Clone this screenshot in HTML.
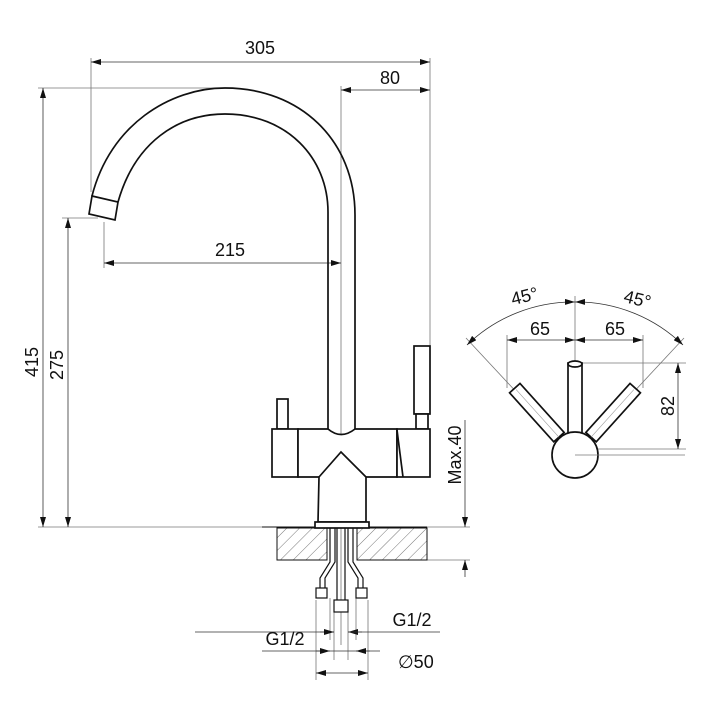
<!DOCTYPE html>
<html><head><style>body{margin:0;background:#fff}svg{display:block}text{font-family:"Liberation Sans",sans-serif;fill:#111}</style></head>
<body>
<svg width="720" height="720" viewBox="0 0 720 720" xmlns="http://www.w3.org/2000/svg">
<defs>
<marker id="a" viewBox="0 0 10 6" refX="10" refY="3" markerWidth="10" markerHeight="6" orient="auto-start-reverse" markerUnits="userSpaceOnUse"><path d="M0,0 L10,3 L0,6 z" fill="#111"/></marker>
<pattern id="h" width="9" height="9" patternUnits="userSpaceOnUse" patternTransform="rotate(45)"><line x1="0" y1="0" x2="0" y2="9" stroke="#555" stroke-width="0.8"/></pattern>
</defs>
<g stroke="#777" stroke-width="0.8" fill="none">
<line x1="91" y1="58" x2="91" y2="192"/>
<line x1="430" y1="58" x2="430" y2="348"/>
<line x1="341" y1="86" x2="341" y2="645"/>
<line x1="38" y1="88" x2="225" y2="88"/>
<line x1="62" y1="218" x2="98" y2="218"/>
<line x1="104" y1="222" x2="104" y2="268"/>
<line x1="38" y1="527" x2="470" y2="527"/>
<line x1="427" y1="560" x2="470" y2="560"/>
<line x1="316" y1="600" x2="316" y2="680"/>
<line x1="368" y1="600" x2="368" y2="680"/>
<line x1="334" y1="612" x2="334" y2="660"/>
<line x1="348" y1="612" x2="348" y2="660"/>
<line x1="330" y1="598" x2="330" y2="640"/>
<line x1="356" y1="598" x2="356" y2="640"/>
<line x1="575" y1="296" x2="575" y2="365"/>
<line x1="507" y1="335" x2="507" y2="388"/>
<line x1="643" y1="335" x2="643" y2="388"/>
<line x1="580" y1="363" x2="686" y2="363"/>
<line x1="577" y1="449" x2="686" y2="449"/>
<line x1="575" y1="455" x2="466" y2="338"/>
<line x1="575" y1="455" x2="684" y2="338"/>
</g>
<g stroke="#333" stroke-width="0.8" fill="none">
<line x1="91" y1="62" x2="430" y2="62" marker-start="url(#a)" marker-end="url(#a)"/>
<line x1="341" y1="90" x2="430" y2="90" marker-start="url(#a)" marker-end="url(#a)"/>
<line x1="104" y1="263" x2="341" y2="263" marker-start="url(#a)" marker-end="url(#a)"/>
<line x1="43" y1="88" x2="43" y2="527" marker-start="url(#a)" marker-end="url(#a)"/>
<line x1="68" y1="218" x2="68" y2="527" marker-start="url(#a)" marker-end="url(#a)"/>
<line x1="465" y1="420" x2="465" y2="527" marker-end="url(#a)"/>
<line x1="465" y1="577" x2="465" y2="560" marker-end="url(#a)"/>
<line x1="195" y1="632" x2="334" y2="632" />
<line x1="320" y1="632" x2="334" y2="632" marker-end="url(#a)"/>
<line x1="362" y1="632" x2="348" y2="632" marker-end="url(#a)"/>
<line x1="348" y1="632" x2="440" y2="632"/>
<line x1="262" y1="651" x2="380" y2="651"/>
<line x1="316" y1="651" x2="330" y2="651" marker-end="url(#a)"/>
<line x1="370" y1="651" x2="356" y2="651" marker-end="url(#a)"/>
<line x1="316" y1="673" x2="368" y2="673" marker-start="url(#a)" marker-end="url(#a)"/>
<line x1="507" y1="340" x2="575" y2="340" marker-start="url(#a)" marker-end="url(#a)"/>
<line x1="575" y1="340" x2="643" y2="340" marker-start="url(#a)" marker-end="url(#a)"/>
<line x1="678" y1="363" x2="678" y2="449" marker-start="url(#a)" marker-end="url(#a)"/>
<path d="M467,345 A153,153 0 0 1 575,302" marker-start="url(#a)" marker-end="url(#a)"/>
<path d="M575,302 A153,153 0 0 1 683,345" marker-start="url(#a)" marker-end="url(#a)"/>
</g>
<rect x="277" y="528" width="50" height="32" fill="url(#h)" stroke="#111" stroke-width="1"/>
<rect x="357" y="528" width="70" height="32" fill="url(#h)" stroke="#111" stroke-width="1"/>
<line x1="262" y1="527" x2="427" y2="527" stroke="#111" stroke-width="1"/>
<g stroke="#111" stroke-width="1.7" fill="#fff">
<path d="M92,196 C110,125 170,88 225,88 C300,88 355,140 355,215 L355,432" fill="none"/>
<path d="M118,202 C135,142 178,114 225,114 C287,114 328,158 328,212 L328,432" fill="none"/>
<path d="M92,196 L118,202 L115,220 L89,214 Z"/>
<rect x="277" y="399" width="11" height="30"/>
<rect x="414" y="346" width="16" height="68"/>
<rect x="416" y="414" width="12" height="15"/>
<rect x="272" y="429" width="26" height="48"/>
<path d="M298,429 L328,429 Q341,440 355,429 L397,429 L397,477 L298,477 Z"/>
<rect x="397" y="429" width="33" height="48"/>
<path d="M397,430 L403,477" fill="none"/>
<path d="M319,477 L341,452 L366,477 L366,522 L318,522 Z"/>
<rect x="315" y="522" width="54" height="6"/>
<path d="M330,528 L330,562 L320,578 L320,588 M335,528 L335,562 L325,578 L325,588" fill="none" stroke-width="1.2"/>
<path d="M353,528 L353,562 L363,578 L363,588 M348,528 L348,562 L358,578 L358,588" fill="none" stroke-width="1.2"/>
<path d="M337,528 V600 M345,528 V600" fill="none" stroke-width="1.2"/>
<rect x="316" y="588" width="11" height="10" stroke-width="1.2"/>
<rect x="356" y="588" width="11" height="10" stroke-width="1.2"/>
<rect x="334" y="600" width="14" height="12" stroke-width="1.2"/>
<g transform="rotate(-42 575 455)"><rect x="568" y="365" width="14" height="66"/><line x1="575" y1="367" x2="575" y2="431" stroke="#999" stroke-width="0.6"/></g>
<g transform="rotate(42 575 455)"><rect x="568" y="365" width="14" height="66"/><line x1="575" y1="367" x2="575" y2="431" stroke="#999" stroke-width="0.6"/></g>
<rect x="568" y="363" width="14" height="72"/>
<ellipse cx="575" cy="364" rx="7" ry="3"/>
<circle cx="575" cy="455" r="23"/>
</g>
<line x1="575" y1="455" x2="685" y2="455" stroke="#777" stroke-width="0.8"/>
<g font-size="18">
<text x="260" y="54" text-anchor="middle">305</text>
<text x="390" y="84" text-anchor="middle">80</text>
<text x="230" y="256" text-anchor="middle">215</text>
<text transform="translate(38,362) rotate(-90)" text-anchor="middle">415</text>
<text transform="translate(63,365) rotate(-90)" text-anchor="middle">275</text>
<text transform="translate(461,455) rotate(-90)" text-anchor="middle">Max.40</text>
<text x="412" y="626" text-anchor="middle">G1/2</text>
<text x="285" y="645" text-anchor="middle">G1/2</text>
<text x="398" y="668">∅50</text>
<text x="540" y="335" text-anchor="middle">65</text>
<text x="615" y="335" text-anchor="middle">65</text>
<text transform="translate(674,406) rotate(-90)" text-anchor="middle">82</text>
<text transform="translate(526,302) rotate(-14)" text-anchor="middle">45°</text>
<text transform="translate(636,305) rotate(14)" text-anchor="middle">45°</text>
</g>
</svg>
</body></html>
